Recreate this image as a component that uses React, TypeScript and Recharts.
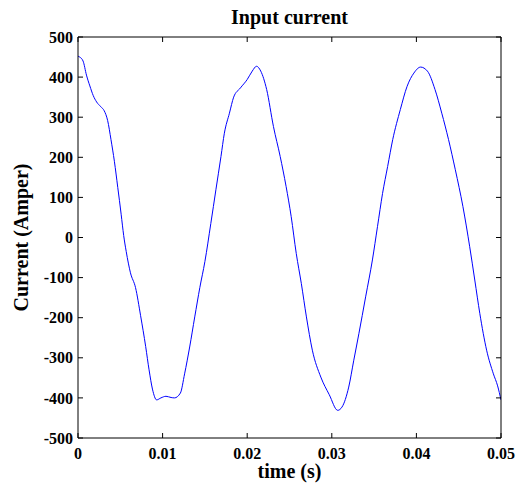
import { LineChart, Line, XAxis, YAxis, Label } from 'recharts';

const time = [
  0, 0.0002, 0.0006, 0.001, 0.0014, 0.0018, 0.0022, 0.0027, 0.0031, 0.0035, 0.0039, 0.0043,
  0.0047, 0.0051, 0.0054, 0.0057, 0.0062, 0.0068, 0.0074, 0.008, 0.0084, 0.0088, 0.0093, 0.0098,
  0.0104, 0.011, 0.0114, 0.0121, 0.0126, 0.0132, 0.0138, 0.0144, 0.015, 0.0157, 0.0163, 0.0169,
  0.0173, 0.0179, 0.0184, 0.0192, 0.02, 0.0206, 0.0211, 0.0216, 0.0223, 0.0231, 0.0239, 0.0246,
  0.0252, 0.0258, 0.0264, 0.027, 0.0277, 0.0287, 0.0297, 0.0307, 0.0312, 0.032, 0.0326, 0.0332,
  0.034, 0.0348, 0.0354, 0.036, 0.0366, 0.0372, 0.0381, 0.0389, 0.0397, 0.0405, 0.0413, 0.0422,
  0.043, 0.0438, 0.0446, 0.0455, 0.0463, 0.0469, 0.0475, 0.0483, 0.0491, 0.0496, 0.05,
];

const current = [
  452, 450, 440, 405, 378, 354, 338, 326, 316, 292, 244, 190,
  125, 58, 5, -35, -88, -125, -195, -272, -330, -378, -405, -400,
  -396, -399, -400, -388, -340, -273, -198, -125, -60, 35, 119, 202,
  260, 310, 350, 373, 394, 415, 427, 415, 369, 277, 202, 127,
  52, -40, -115, -198, -281, -348, -392, -431, -423, -373, -306, -240,
  -148, -56, 27, 110, 177, 244, 319, 377, 410, 425, 415, 369,
  310, 244, 169, 77, -23, -106, -190, -281, -340, -370, -405,
];

const xTicks = [0, 0.01, 0.02, 0.03, 0.04, 0.05];
const yTicks = [-500, -400, -300, -200, -100, 0, 100, 200, 300, 400, 500];

const data = time.map((t, i) => ({ t, current: current[i] }));

const FONT = '"Liberation Serif", "Times New Roman", serif';
const labelStyle = { fontSize: 16, fontWeight: 700, fontFamily: FONT };
const TICK_LEN = 5;

const fmtTime = (v: number) => (v === 0 ? '0' : v.toFixed(2));

// MATLAB-style ticks point into the plot box
const BottomTick = ({ x, y, payload }: any) => (
  <g>
    <line x1={x} y1={y - 9} x2={x} y2={y - 9 - TICK_LEN} stroke="#000" />
    <text x={x} y={y} dy="0.75em" textAnchor="middle" fill="#000" style={labelStyle}>
      {fmtTime(payload.value)}
    </text>
  </g>
);

const LeftTick = ({ x, y, payload }: any) => (
  <g>
    <line x1={x + 5} y1={y} x2={x + 5 + TICK_LEN} y2={y} stroke="#000" />
    <text x={x} y={y} dy="0.35em" textAnchor="end" fill="#000" style={labelStyle}>
      {payload.value}
    </text>
  </g>
);

const TopTick = ({ x, y }: any) => <line x1={x} y1={y} x2={x} y2={y + TICK_LEN} stroke="#000" />;
const RightTick = ({ x, y }: any) => <line x1={x} y1={y} x2={x - TICK_LEN} y2={y} stroke="#000" />;

export default function App() {
  return (
    <div style={{ position: 'absolute', left: 0, top: 0, width: 531, height: 484, background: '#fff' }}>
      <LineChart width={531} height={484} data={data} margin={{ top: 36, right: 29, left: 0, bottom: 0 }}>
        <XAxis
          xAxisId="b"
          dataKey="t"
          type="number"
          domain={[0, 0.05]}
          ticks={xTicks}
          height={46}
          tickSize={0}
          tickMargin={9}
          tick={<BottomTick />}
          stroke="#000"
          allowDataOverflow
        >
          <Label
            content={({ viewBox }: any) => (
              <text
                x={viewBox.x + viewBox.width / 2}
                y={478}
                textAnchor="middle"
                style={{ fontSize: 20, fontWeight: 700, fontFamily: FONT }}
                fill="#000"
              >
                time (s)
              </text>
            )}
          />
        </XAxis>
        <XAxis
          xAxisId="t"
          orientation="top"
          dataKey="t"
          type="number"
          domain={[0, 0.05]}
          ticks={xTicks}
          height={1}
          tickSize={0}
          tickMargin={0}
          tick={<TopTick />}
          stroke="#000"
          allowDataOverflow
        />
        <YAxis
          yAxisId="l"
          type="number"
          domain={[-500, 500]}
          ticks={yTicks}
          width={78}
          tickSize={0}
          tickMargin={5}
          tick={<LeftTick />}
          stroke="#000"
          allowDataOverflow
        >
          <Label
            content={({ viewBox }: any) => (
              <text
                x={28}
                y={viewBox.y + viewBox.height / 2}
                transform={`rotate(-90, 28, ${viewBox.y + viewBox.height / 2})`}
                textAnchor="middle"
                style={{ fontSize: 20, fontWeight: 700, fontFamily: FONT }}
                fill="#000"
              >
                Current (Amper)
              </text>
            )}
          />
        </YAxis>
        <YAxis
          yAxisId="r"
          orientation="right"
          type="number"
          domain={[-500, 500]}
          ticks={yTicks}
          width={1}
          tickSize={0}
          tickMargin={0}
          tick={<RightTick />}
          stroke="#000"
          allowDataOverflow
        />
        <Line
          xAxisId="b"
          yAxisId="l"
          type="monotone"
          dataKey="current"
          stroke="#0000ff"
          strokeWidth={1}
          dot={false}
          isAnimationActive={false}
        />
        <Line
          xAxisId="t"
          yAxisId="r"
          dataKey="current"
          stroke="none"
          dot={false}
          activeDot={false}
          legendType="none"
          isAnimationActive={false}
        />
      </LineChart>
      <div
        style={{
          position: 'absolute',
          left: 78,
          width: 423,
          top: 5,
          textAlign: 'center',
          fontFamily: FONT,
          fontWeight: 700,
          fontSize: 20,
          lineHeight: '24px',
        }}
      >
        Input current
      </div>
    </div>
  );
}
